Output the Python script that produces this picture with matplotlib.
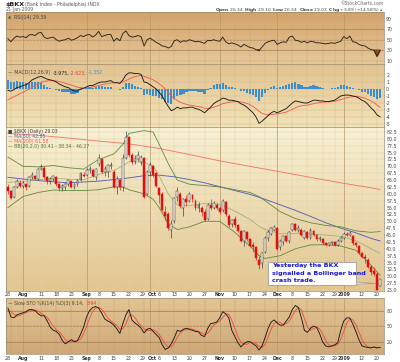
import numpy as np
import pandas as pd
import matplotlib
matplotlib.use('Agg')
import matplotlib.pyplot as plt
import matplotlib.patches as patches
from matplotlib.colors import LinearSegmentedColormap

# ---- trading calendar ----
holidays = ['2008-09-01', '2008-11-27', '2008-12-25', '2009-01-01', '2009-01-19']
days = pd.bdate_range('2008-07-25', '2009-01-21')
days = days[~days.isin(pd.to_datetime(holidays))]

tick_dates = ['2008-07-28', '2008-08-01', '2008-08-11', '2008-08-18', '2008-08-25', '2008-09-02',
              '2008-09-08', '2008-09-15', '2008-09-22', '2008-09-29', '2008-10-01', '2008-10-06',
              '2008-10-13', '2008-10-20', '2008-10-27', '2008-11-03', '2008-11-10', '2008-11-17',
              '2008-11-24', '2008-12-01', '2008-12-08', '2008-12-15', '2008-12-22', '2008-12-29',
              '2009-01-02', '2009-01-12', '2009-01-20']
tick_labels = ['28', 'Aug', '11', '18', '25', 'Sep', '8', '15', '22', '29', 'Oct', '6', '13', '20', '27',
               'Nov', '10', '17', '24', 'Dec', '8', '15', '22', '29', '2009', '12', '20']

# ---- price (daily candles) ----
opens = [62.5, 61.0, 59.0, 62.5, 64.0, 63.0, 63.5, 63.0, 66.0, 66.5, 65.5, 69.0, 69.5, 66.0, 64.5, 65.5,
         66.0, 63.5, 62.0, 62.5, 63.5, 64.5, 62.5, 63.5, 65.0, 67.0, 67.0, 68.5, 68.5, 66.0, 71.0, 72.5,
         68.0, 68.0, 70.0, 68.0, 62.5, 65.0, 62.5, 73.0, 80.5, 74.0, 72.0, 72.5, 71.5, 73.0, 60.0, 68.0,
         70.0, 67.5, 62.0, 60.0, 53.5, 52.5, 47.0, 50.0, 59.0, 60.0, 55.0, 58.0, 57.5, 59.5, 57.5, 55.0,
         55.0, 53.5, 51.0, 56.0, 55.0, 56.0, 55.0, 54.0, 57.0, 52.0, 49.0, 51.0, 48.5, 46.5, 43.0, 46.0,
         43.5, 41.5, 40.5, 36.0, 35.0, 39.0, 44.0, 45.5, 47.0, 47.5, 40.5, 42.5, 44.5, 43.0, 47.0, 49.0,
         47.0, 47.0, 44.0, 46.0, 44.0, 46.5, 45.0, 43.5, 43.5, 42.0, 41.5, 42.0, 42.5, 41.5, 43.0, 44.0,
         45.5, 45.0, 44.5, 42.0, 41.0, 38.5, 37.0, 36.0, 33.5, 32.0, 31.0, 26.34]
closes = [61.0, 58.5, 62.5, 64.5, 63.0, 63.8, 62.5, 66.0, 66.8, 65.5, 69.0, 69.8, 66.0, 64.5, 65.5, 66.5,
          63.5, 62.0, 62.8, 63.5, 65.0, 62.5, 63.5, 65.0, 67.5, 66.5, 68.5, 69.0, 66.5, 69.0, 73.0, 68.0,
          69.0, 70.5, 70.5, 62.5, 65.5, 62.5, 73.0, 80.5, 74.0, 71.5, 72.5, 74.0, 73.5, 59.0, 68.0, 70.5,
          67.0, 63.0, 59.5, 54.0, 52.0, 47.5, 49.0, 58.5, 61.0, 55.5, 58.0, 57.0, 60.0, 58.0, 55.0, 56.0,
          53.5, 50.5, 56.0, 55.0, 56.5, 55.0, 53.5, 57.5, 52.5, 48.5, 50.5, 48.5, 46.5, 43.0, 46.5, 43.5,
          41.0, 40.5, 36.5, 34.0, 38.5, 44.0, 46.0, 47.5, 48.0, 40.0, 43.0, 44.5, 43.0, 46.0, 49.0, 47.0,
          47.5, 45.0, 46.5, 44.0, 47.0, 45.0, 43.5, 43.8, 42.0, 41.5, 42.0, 42.5, 41.5, 43.0, 44.0, 45.5,
          45.0, 45.8, 42.0, 41.5, 38.5, 37.0, 36.5, 33.5, 31.5, 31.0, 25.14, 29.03]
highs = [63.5, 61.5, 63.0, 65.5, 65.0, 64.5, 64.0, 66.5, 67.8, 67.0, 69.5, 71.0, 70.0, 66.5, 66.0, 67.0,
         66.5, 64.0, 63.5, 64.0, 65.5, 64.8, 64.0, 65.5, 68.0, 67.8, 69.5, 70.0, 69.0, 69.5, 74.5, 73.0,
         70.0, 71.0, 71.5, 68.5, 66.5, 65.5, 74.5, 83.0, 81.0, 75.0, 74.0, 75.5, 74.0, 73.5, 68.5, 71.5,
         70.5, 68.0, 62.5, 60.5, 55.5, 53.5, 50.5, 59.0, 62.5, 60.5, 58.5, 59.5, 60.5, 60.0, 58.0, 57.0,
         55.5, 54.5, 56.5, 58.0, 57.5, 57.0, 55.5, 58.0, 57.5, 52.5, 51.0, 52.0, 49.0, 47.0, 47.0, 46.5,
         44.0, 42.5, 41.0, 37.5, 39.0, 44.5, 47.0, 48.0, 48.5, 47.8, 43.5, 45.0, 45.0, 46.5, 49.5, 49.5,
         48.5, 47.5, 47.0, 46.5, 47.5, 47.0, 45.5, 44.5, 44.0, 42.5, 42.5, 43.0, 43.0, 43.5, 44.5, 46.0,
         46.0, 46.5, 45.0, 42.5, 41.5, 39.0, 38.0, 36.5, 34.0, 33.5, 31.5, 29.10]
lows = [60.0, 58.0, 58.5, 62.0, 62.5, 62.0, 61.5, 62.5, 65.5, 65.0, 65.0, 68.5, 65.5, 63.5, 63.5, 64.5,
        63.0, 61.0, 61.0, 61.5, 63.0, 62.0, 61.8, 63.0, 64.8, 66.0, 66.5, 67.5, 66.0, 65.0, 70.0, 67.5,
        66.5, 66.0, 69.0, 62.0, 60.0, 61.5, 61.0, 72.5, 73.5, 71.0, 71.0, 72.0, 70.5, 58.5, 59.5, 66.5,
        66.0, 62.5, 56.5, 53.5, 50.5, 47.0, 44.0, 49.5, 57.5, 55.0, 52.0, 55.5, 57.0, 57.0, 54.0, 53.5,
        52.0, 50.0, 50.5, 54.0, 54.5, 54.0, 52.5, 53.5, 52.0, 48.0, 48.0, 48.0, 46.0, 42.5, 41.0, 43.0,
        40.5, 39.0, 36.0, 32.5, 33.0, 38.5, 43.0, 45.0, 46.5, 39.5, 39.5, 41.5, 42.5, 42.0, 46.5, 46.5,
        46.0, 44.5, 43.5, 43.5, 43.5, 44.5, 43.0, 43.0, 41.5, 41.0, 41.0, 41.5, 41.0, 41.0, 42.5, 43.5,
        44.5, 44.5, 41.5, 40.5, 38.0, 36.5, 35.0, 33.0, 30.5, 30.0, 25.0, 26.34]

# ---- overlays (read at sample days) ----
ma_idx = [0, 10, 20, 30, 40, 45, 50, 55, 60, 65, 70, 75, 80, 85, 90, 95, 100, 105, 110, 115, 120, 123]
ma50 = [66.0, 64.8, 64.0, 64.6, 65.8, 66.6, 66.8, 66.2, 65.2, 64.0, 62.6, 61.2, 59.8, 58.0, 56.0, 54.0,
        51.8, 49.5, 47.5, 45.8, 43.8, 42.85]
ma200_idx = [0, 10, 20, 30, 40, 50, 60, 70, 80, 90, 100, 110, 120, 123]
ma200 = [82.0, 81.3, 80.3, 79.2, 78.2, 76.5, 74.3, 72.0, 70.0, 68.0, 66.0, 64.0, 62.2, 61.58]
bb_idx = [0, 5, 10, 15, 20, 25, 30, 35, 38, 40, 45, 48, 50, 53, 56, 60, 65, 70, 75, 80, 83, 85, 90, 95,
          100, 105, 110, 115, 120, 123]
bb_upper = [73.4, 70.0, 69.8, 70.3, 69.5, 69.0, 72.5, 74.5, 78.0, 82.0, 83.0, 82.5, 78.0, 71.0, 65.0,
            63.5, 63.0, 62.5, 61.5, 60.5, 59.0, 57.5, 53.5, 51.0, 49.5, 48.5, 48.0, 46.5, 46.0, 46.27]
bb_mid = [64.2, 64.5, 65.1, 65.8, 65.3, 65.1, 67.0, 68.5, 70.2, 71.7, 71.5, 70.2, 66.5, 60.0, 56.0, 55.7,
          56.5, 56.2, 53.7, 50.7, 48.2, 47.0, 45.5, 45.5, 45.4, 45.0, 44.5, 43.0, 40.0, 38.34]
bb_lower = [55.0, 59.0, 60.5, 61.4, 61.2, 61.2, 61.5, 62.5, 62.5, 61.5, 60.0, 58.0, 55.0, 49.0, 47.0,
            48.0, 50.0, 50.0, 46.0, 41.0, 37.5, 36.5, 37.5, 40.0, 41.4, 41.5, 41.0, 39.5, 34.0, 30.41]

# ---- indicators (daily) ----
rsi = [52, 46, 53, 57, 55, 56, 54, 59, 60, 58, 63, 64, 55, 52, 54, 55, 50, 47, 49, 50, 53, 49, 51, 54,
       58, 56, 59, 60, 55, 59, 66, 56, 58, 60, 60, 47, 53, 48, 62, 67, 58, 55, 56, 58, 56, 38, 50, 53,
       49, 45, 42, 38, 37, 34, 37, 48, 50, 45, 48, 47, 50, 48, 46, 47, 45, 43, 49, 48, 50, 48, 47, 55,
       46, 42, 44, 42, 40, 36, 41, 38, 35, 34, 31, 29, 36, 43, 46, 48, 49, 41, 44, 46, 45, 55, 57, 49,
       48, 45, 47, 44, 47, 46, 44, 44, 43, 42, 43, 44, 43, 45, 47, 56, 52, 57, 46, 45, 41, 39, 38, 34,
       31, 30, 18, 29.39]
macd_line = [-0.2, -0.3, -0.1, 0.2, 0.3, 0.5, 0.6, 0.9, 1.3, 1.5, 1.7, 1.8, 1.6, 1.4, 1.3, 1.2, 1.0, 0.7,
             0.5, 0.3, 0.2, -0.1, -0.3, -0.3, 0.0, 0.1, 0.3, 0.5, 0.5, 0.7, 0.9, 1.0, 1.0, 1.1, 1.2, 0.9,
             0.9, 0.8, 1.3, 2.0, 2.3, 2.3, 2.2, 2.2, 2.1, 1.0, 0.9, 0.6, 0.3, 0.0, -0.5, -1.0, -1.8, -2.5,
             -3.1, -2.9, -2.6, -2.8, -2.7, -2.7, -2.6, -2.6, -2.8, -2.9, -3.1, -3.4, -3.0, -2.6, -2.1,
             -1.8, -1.6, -1.3, -1.4, -1.6, -1.6, -1.7, -1.8, -2.1, -2.3, -2.6, -3.0, -3.4, -4.0, -4.9,
             -4.6, -4.2, -3.8, -3.4, -3.2, -3.4, -3.2, -3.0, -2.8, -2.4, -2.0, -1.7, -1.8, -1.9, -2.0,
             -2.0, -1.8, -1.6, -1.6, -1.7, -1.7, -1.8, -1.8, -1.7, -1.6, -1.3, -1.0, -0.9, -0.86, -0.9,
             -1.0, -1.1, -1.3, -1.6, -1.8, -2.2, -2.7, -3.1, -3.7, -3.975]
macd_signal = [-1.55, -1.3, -1.1, -0.9, -0.65, -0.45, -0.25, 0.0, 0.25, 0.5, 0.75, 0.95, 1.1, 1.15, 1.2,
               1.2, 1.15, 1.05, 0.95, 0.8, 0.7, 0.55, 0.4, 0.25, 0.2, 0.15, 0.2, 0.25, 0.3, 0.4, 0.5, 0.6,
               0.7, 0.75, 0.85, 0.9, 0.9, 0.9, 1.0, 1.2, 1.4, 1.6, 1.75, 1.85, 1.95, 1.8, 1.65, 1.5, 1.3,
               1.05, 0.75, 0.4, 0.0, -0.5, -1.0, -1.4, -1.65, -1.9, -2.05, -2.2, -2.3, -2.35, -2.45,
               -2.5, -2.6, -2.75, -2.8, -2.75, -2.6, -2.45, -2.3, -2.1, -2.0, -1.9, -1.85, -1.8, -1.8,
               -1.85, -1.95, -2.05, -2.25, -2.5, -2.8, -3.2, -3.5, -3.6, -3.7, -3.65, -3.6, -3.55, -3.5,
               -3.4, -3.3, -3.1, -2.9, -2.7, -2.5, -2.4, -2.35, -2.3, -2.2, -2.1, -2.0, -1.95, -1.9,
               -1.85, -1.85, -1.8, -1.75, -1.65, -1.5, -1.4, -1.25, -1.15, -1.1, -1.05, -1.1, -1.2,
               -1.3, -1.5, -1.7, -1.95, -2.3, -2.623]
sto_k = [85, 68, 66, 72, 74, 76, 78, 82, 82, 80, 74, 70, 70, 60, 48, 42, 40, 34, 22, 16, 20, 24, 20, 22,
         34, 48, 68, 80, 86, 88, 85, 75, 64, 60, 57, 52, 45, 36, 55, 72, 82, 62, 56, 52, 46, 37, 44, 46,
         40, 34, 28, 14, 5, 8, 16, 28, 42, 40, 44, 46, 44, 42, 40, 39, 32, 30, 45, 55, 56, 58, 66, 78,
         74, 66, 42, 30, 18, 10, 16, 20, 20, 16, 12, 4, 12, 28, 46, 58, 62, 56, 52, 52, 60, 68, 82, 90,
         86, 66, 42, 38, 46, 50, 48, 36, 20, 12, 10, 12, 14, 18, 42, 60, 66, 66, 54, 40, 24, 12, 10, 9,
         8, 10, 8, 9.14]
sto_d = [80, 78, 73, 69, 71, 74, 76, 79, 81, 81, 79, 75, 71, 67, 59, 50, 43, 39, 32, 24, 19, 20, 21, 22,
         25, 35, 50, 65, 78, 85, 86, 83, 75, 66, 60, 56, 51, 44, 45, 54, 70, 72, 67, 57, 51, 45, 42, 42,
         43, 40, 34, 25, 16, 9, 10, 17, 29, 37, 42, 43, 45, 44, 42, 40, 37, 34, 36, 43, 52, 56, 60, 67,
         73, 73, 61, 46, 30, 19, 15, 15, 19, 19, 16, 11, 9, 15, 29, 44, 55, 59, 57, 53, 55, 60, 70, 80,
         86, 81, 65, 49, 42, 45, 48, 45, 35, 23, 14, 11, 12, 15, 25, 40, 56, 64, 62, 53, 39, 25, 15, 10,
         9, 9, 9, 8.94]

# ---------------------------------------------------------------
W, H = 400, 362
fig = plt.figure(figsize=(W / 100, H / 100), dpi=100)
fig.patch.set_facecolor('white')

def px_rect(top, bottom, left=6, right=384):
    return [left / W, 1 - bottom / H, (right - left) / W, (bottom - top) / H]

def fx(x):
    return x / W

def fy(y):
    return 1 - y / H

n = len(closes)
xs = np.arange(n)
XLIM = (-0.63, 124.3)
tick_pos = [int(days.searchsorted(pd.Timestamp(d))) for d in tick_dates]
month_labels = {'Aug', 'Sep', 'Oct', 'Nov', 'Dec', '2009'}
LINE_W = 0.65

def gradient(ax, top, bottom):
    cmap = LinearSegmentedColormap.from_list('g', [bottom, top])
    ax.imshow(np.linspace(0, 1, 64).reshape(-1, 1), cmap=cmap, aspect='auto', origin='lower',
              extent=(0, 1, 0, 1), transform=ax.transAxes, zorder=0)

def setup(ax, ylim, yticks, fmt, top, bottom, grid_col):
    gradient(ax, top, bottom)
    ax.set_xlim(*XLIM)
    ax.set_ylim(*ylim)
    ax.set_xticks([])
    ax.yaxis.tick_right()
    ax.set_yticks(yticks)
    ax.set_yticklabels([fmt % v for v in yticks])
    ax.tick_params(axis='y', length=0, labelsize=3.4, pad=1.6, colors='#444444')
    for v in yticks:
        ax.axhline(v, color=grid_col, lw=0.35, zorder=1)
    for p, lab in zip(tick_pos, tick_labels):
        if lab in month_labels:
            ax.axvline(p, color='#b89868', lw=0.5, zorder=1)
        else:
            ax.axvline(p, color=grid_col, lw=0.35, zorder=1)
    for s in ax.spines.values():
        s.set_color('#9a8a70')
        s.set_linewidth(0.5)

# ---- RSI panel ----
ax_rsi = fig.add_axes(px_rect(12, 64))
setup(ax_rsi, (3.3, 103.3), [10, 30, 50, 70, 90], '%d', '#d3a36a', '#e6c89a', '#c9a878')
for lvl in (30, 70):
    ax_rsi.axhline(lvl, color='#a8845a', lw=0.5, zorder=1)
ax_rsi.axhline(50, color='#a8845a', lw=0.4, ls=(0, (4, 2)), zorder=1)
rsi_a = np.array(rsi, dtype=float)
ax_rsi.fill_between(xs, rsi_a, 30, where=rsi_a < 30, interpolate=True, color='#8a4a2a', zorder=2)
ax_rsi.plot(xs, rsi_a, color='#2a2418', lw=LINE_W, zorder=3)
ax_rsi.text(0.006, 0.9, '\u25B2', color='#3d6a2a', fontsize=3.2, transform=ax_rsi.transAxes, va='center')
ax_rsi.text(0.022, 0.9, 'RSI(14) 29.39', color='#444444', fontsize=3.4, transform=ax_rsi.transAxes,
            va='center')

# ---- MACD panel ----
ax_macd = fig.add_axes(px_rect(64, 127))
setup(ax_macd, (-5.43, 3.57), [-5, -4, -3, -2, -1, 0, 1, 2], '%d', '#e2c290', '#f3e3b8', '#d4bc8c')
macd_a = np.array(macd_line)
sig_a = np.array(macd_signal)
ax_macd.bar(xs, macd_a - sig_a, width=0.75, color='#3b8fd0', edgecolor='none', zorder=2)
ax_macd.plot(xs, sig_a, color='#f06050', lw=LINE_W, zorder=3)
ax_macd.plot(xs, macd_a, color='#1a1a1a', lw=LINE_W, zorder=4)
ax_macd.text(0.006, 0.86, '\u2014 MACD(12,26,9)', color='#444444', fontsize=3.4,
             transform=ax_macd.transAxes, va='center')
ax_macd.text(0.123, 0.86, '-3.975,', color='#222222', fontsize=3.4, transform=ax_macd.transAxes, va='center')
ax_macd.text(0.170, 0.86, '-2.623,', color='#e04030', fontsize=3.4, transform=ax_macd.transAxes, va='center')
ax_macd.text(0.217, 0.86, '-1.352', color='#3b8fd0', fontsize=3.4, transform=ax_macd.transAxes, va='center')

# ---- price panel ----
ax_p = fig.add_axes(px_rect(127, 291))
pticks = list(np.arange(25.0, 83.0, 2.5))
setup(ax_p, (24.64, 84.32), pticks, '%.1f', '#f8f1d4', '#e3c590', '#e2d2a8')
ax_p.plot(ma200_idx, ma200, color='#f07a68', lw=LINE_W, zorder=2)
ax_p.plot(ma_idx, ma50, color='#5860b8', lw=LINE_W, zorder=2)
ax_p.plot(bb_idx, bb_upper, color='#5f8a3e', lw=0.6, zorder=2)
ax_p.plot(bb_idx, bb_lower, color='#5f8a3e', lw=0.6, zorder=2)
ax_p.plot(bb_idx, bb_mid, color='#8aaa6a', lw=0.45, zorder=2)
for i in range(n):
    o, c, h, l = opens[i], closes[i], highs[i], lows[i]
    down = c < o
    col = '#e01010' if down else '#303030'
    ax_p.vlines(i, l, h, color=col, lw=0.45, zorder=3)
    ax_p.add_patch(patches.Rectangle((i - 0.32, min(o, c)), 0.64, max(abs(c - o), 0.15),
                                     facecolor='#e01010' if down else '#fbf8ee',
                                     edgecolor=col, lw=0.35, zorder=4))
leg = [('\u25A0 $BKX (Daily) 29.03', '#444444'), ('\u2014 MA(50) 42.85', '#5860b8'),
       ('\u2014 MA(200) 61.58', '#e06050'), ('\u2014 BB(20,2.0) 30.41 - 38.34 - 46.27', '#4f7a30')]
for k, (t, c) in enumerate(leg):
    ax_p.text(0.006, 0.975 - k * 0.032, t, color=c, fontsize=3.3, transform=ax_p.transAxes, va='center',
              zorder=6)

# ---- stochastics panel ----
ax_s = fig.add_axes(px_rect(298, 354))
setup(ax_s, (-3.7, 104.4), [20, 50, 80], '%d', '#e3c593', '#d0a878', '#c8a070')
for lvl in (20, 80):
    ax_s.axhline(lvl, color='#a08058', lw=0.5, zorder=1)
ax_s.axhline(50, color='#a08058', lw=0.4, ls=(0, (4, 2)), zorder=1)
ax_s.plot(xs, sto_d, color='#f05040', lw=LINE_W, zorder=2)
ax_s.plot(xs, sto_k, color='#1a1a1a', lw=LINE_W, zorder=3)
ax_s.text(0.006, 0.9, '\u2014 Slow STO %K(14) %D(3) 9.14,', color='#444444', fontsize=3.3,
          transform=ax_s.transAxes, va='center')
ax_s.text(0.212, 0.9, '8.94', color='#e04030', fontsize=3.3, transform=ax_s.transAxes, va='center')

# ---- date labels ----
label_shift = {'28': -3.5, '29': -1.5, 'Oct': 2.0}
for ypx in (294.5, 358.5):
    for p, lab in zip(tick_pos, tick_labels):
        xpx = 7.9 + p * 3.025
        if lab in label_shift and (lab != '29' or p < 60):
            xpx += label_shift[lab]
        fig.text(fx(xpx), fy(ypx), lab, fontsize=3.3, ha='center', va='center', color='#333333',
                 fontweight='bold' if lab in month_labels else 'normal')

# ---- header ----
fig.text(fx(6), fy(4.5), '$BKX', fontsize=4.6, fontweight='bold', color='#222222', va='center')
fig.text(fx(25), fy(4.5), '(Bank Index - Philadelphia) INDX', fontsize=3.3, color='#555555', va='center')
fig.text(fx(6), fy(10), '21-Jan-2009', fontsize=3.3, color='#555555', va='center')
fig.text(fx(384), fy(3.5), '\u00A9StockCharts.com', fontsize=3.3, color='#666666', va='center', ha='right')
fig.text(fx(384), fy(9.5),
         r'$\bf{Open}$ 26.34  $\bf{High}$ 29.10  $\bf{Low}$ 26.34  $\bf{Close}$ 29.03  $\bf{Chg}$ +3.89 (+14.58%) $\blacktriangle$',
         fontsize=3.2, color='#444444', va='center', ha='right')

# ---- annotation ----
ax_over = fig.add_axes([0, 0, 1, 1], facecolor='none')
ax_over.set_xlim(0, W)
ax_over.set_ylim(H, 0)
ax_over.axis('off')
ax_over.add_patch(patches.Polygon([(340, 281), (376, 283.5), (340, 284.5)], closed=True,
                                  facecolor='#f4f4f4', edgecolor='#909090', lw=0.4, zorder=5))
ax_over.add_patch(patches.Rectangle((268, 261.5), 88, 23.5, facecolor='white', edgecolor='#909090',
                                    lw=0.5, zorder=6))
for k, t in enumerate(['Yesterday the BKX', 'signalled a Bollinger band', 'crash trade.']):
    ax_over.text(272, 266 + k * 7, t, color='#1a1ad8', fontsize=4.6, fontweight='bold',
                 va='center', ha='left', zorder=7)

fig.savefig('out.png', dpi=100)
